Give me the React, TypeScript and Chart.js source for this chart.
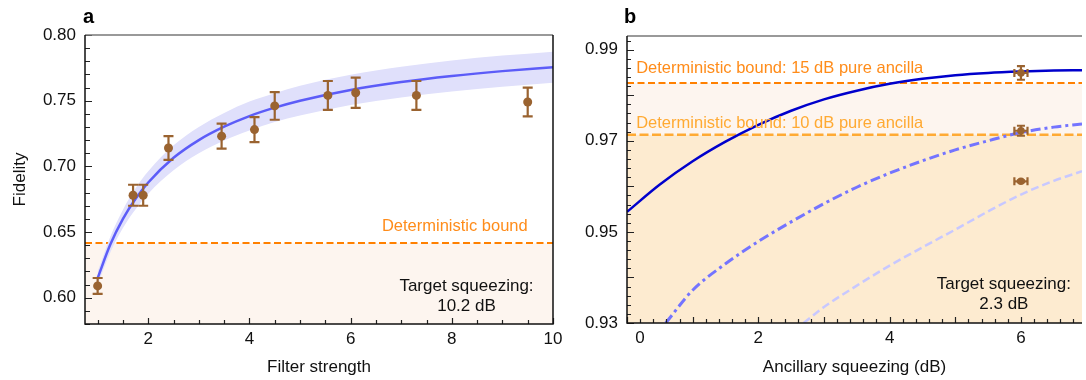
import React, { useEffect, useRef } from "react";
import { Chart, registerables } from "chart.js";
Chart.register(...registerables);

const FONT = "'Liberation Sans', Arial, Helvetica, sans-serif";
const BROWN = "#9a6330";

// ---------- Panel a ----------
const aFilter = [1.0, 1.7, 1.9, 2.4, 3.45, 4.1, 4.5, 5.55, 6.1, 7.3, 9.5];
const aFidelity = [0.609, 0.678, 0.678, 0.714, 0.723, 0.728, 0.746, 0.754, 0.756, 0.754, 0.749];
const aFidelityErr = [0.006, 0.008, 0.008, 0.009, 0.0095, 0.0095, 0.0105, 0.011, 0.0115, 0.011, 0.011];
const aFitX = [1.0, 1.25, 1.5, 1.75, 2, 2.5, 3, 3.5, 4, 4.5, 5, 6, 7, 8, 9, 10];
const aFitY = [0.615, 0.6405, 0.66, 0.6753, 0.6877, 0.7065, 0.72, 0.7302, 0.7383, 0.7447, 0.75, 0.7582, 0.7642, 0.7688, 0.7725, 0.7755];
const aFitBand = [0.005, 0.006, 0.007, 0.008, 0.0085, 0.0095, 0.01, 0.0105, 0.011, 0.011, 0.0113, 0.0115, 0.0117, 0.0118, 0.0118, 0.0118];
const aBound = 0.6416;
const aXTicks = [2, 4, 6, 8, 10];
const aYTicks = [0.6, 0.65, 0.7, 0.75, 0.8];

// ---------- Panel b ----------
const bAncilla = [6, 6, 6];
const bFidelity = [0.9849, 0.9722, 0.9611];
const bFidelityErr = [0.0015, 0.0011, 0.0002];
const bAncillaErr = [0.1, 0.1, 0.1];
const bPureX = [0, 0.5, 1, 1.5, 2, 2.5, 3, 3.5, 4, 4.5, 5, 5.5, 6, 6.5, 6.93];
const bPureY = [0.9544, 0.9604, 0.9655, 0.9698, 0.9735, 0.9766, 0.9791, 0.981, 0.9825, 0.9836, 0.9844, 0.9849, 0.9852, 0.9854, 0.9855];
const bMidX = [0.59, 1, 1.5, 2, 2.5, 3, 3.5, 4, 4.5, 5, 5.5, 6, 6.5, 6.93];
const bMidY = [0.93, 0.9372, 0.943, 0.9479, 0.9522, 0.9562, 0.9598, 0.9629, 0.9656, 0.968, 0.97, 0.9718, 0.973, 0.9737];
const bLowX = [2.69, 3, 3.5, 4, 4.5, 5, 5.5, 6, 6.5, 6.93];
const bLowY = [0.93, 0.9335, 0.9382, 0.9426, 0.9466, 0.9505, 0.9545, 0.9582, 0.9612, 0.9633];
const bBound15 = 0.9827;
const bBound10 = 0.9713;
const bXTicks = [0, 2, 4, 6];
const bYTicks = [0.93, 0.95, 0.97, 0.99];

const pts = (xs: number[], ys: number[]) => xs.map((x, i) => ({ x, y: ys[i] }));

type Decor = {
  fills: { to: number; color: string }[];
  hlines: { y: number; color: string; dash: number[]; width: number }[];
  texts: { text: string; x: number; y: number; align: CanvasTextAlign; color: string; size: number }[];
  err: { index: number; x: number[]; y: number[]; yErr: number[]; xErr?: number[]; cap: number };
  frameRight: boolean;
  ticks: {
    x: { step: number; major: number; minorLen: number; majorLen: number };
    y: { step: number; major: number; minorLen: number; majorLen: number };
  };
  label: string;
  labelDx: number;
  shiftZero?: number;
};

function makeDecor(cfg: Decor) {
  return {
    id: "decor",
    beforeDatasetsDraw(chart: any) {
      const { ctx, chartArea: ca, scales } = chart;
      const y = scales.y;
      ctx.save();
      ctx.beginPath();
      ctx.rect(ca.left, ca.top, ca.right - ca.left, ca.bottom - ca.top);
      ctx.clip();
      for (const f of cfg.fills) {
        const yt = y.getPixelForValue(f.to);
        ctx.fillStyle = f.color;
        ctx.fillRect(ca.left, yt, ca.right - ca.left, ca.bottom - yt);
      }
      for (const h of cfg.hlines) {
        const py = y.getPixelForValue(h.y);
        ctx.strokeStyle = h.color;
        ctx.lineWidth = h.width;
        ctx.setLineDash(h.dash);
        ctx.beginPath();
        ctx.moveTo(ca.left, py);
        ctx.lineTo(ca.right, py);
        ctx.stroke();
      }
      ctx.restore();
    },
    beforeDatasetDraw(chart: any, args: any) {
      if (args.index !== cfg.err.index) return;
      const { ctx, scales } = chart;
      const xs = scales.x, ys = scales.y;
      const e = cfg.err;
      ctx.save();
      ctx.strokeStyle = BROWN;
      ctx.lineWidth = 2.2;
      ctx.setLineDash([]);
      for (let i = 0; i < e.x.length; i++) {
        const px = xs.getPixelForValue(e.x[i]);
        const y1 = ys.getPixelForValue(e.y[i] - e.yErr[i]);
        const y2 = ys.getPixelForValue(e.y[i] + e.yErr[i]);
        ctx.beginPath();
        ctx.moveTo(px, y1); ctx.lineTo(px, y2);
        ctx.moveTo(px - e.cap, y1); ctx.lineTo(px + e.cap, y1);
        ctx.moveTo(px - e.cap, y2); ctx.lineTo(px + e.cap, y2);
        ctx.stroke();
        if (e.xErr) {
          const py = ys.getPixelForValue(e.y[i]);
          const x1 = xs.getPixelForValue(e.x[i] - e.xErr[i]);
          const x2 = xs.getPixelForValue(e.x[i] + e.xErr[i]);
          ctx.beginPath();
          ctx.moveTo(x1, py); ctx.lineTo(x2, py);
          ctx.moveTo(x1, py - e.cap); ctx.lineTo(x1, py + e.cap);
          ctx.moveTo(x2, py - e.cap); ctx.lineTo(x2, py + e.cap);
          ctx.stroke();
        }
      }
      ctx.restore();
    },
    afterDatasetsDraw(chart: any) {
      const { ctx, scales } = chart;
      ctx.save();
      ctx.textBaseline = "middle";
      for (const t of cfg.texts) {
        ctx.font = `${t.size}px ${FONT}`;
        ctx.fillStyle = t.color;
        ctx.textAlign = t.align;
        ctx.fillText(t.text, scales.x.getPixelForValue(t.x), scales.y.getPixelForValue(t.y));
      }
      ctx.restore();
    },
    afterDraw(chart: any) {
      const { ctx, chartArea: ca, scales } = chart;
      const xs = scales.x, ys = scales.y;
      ctx.save();
      ctx.setLineDash([]);
      ctx.strokeStyle = "#222";
      ctx.lineWidth = 1.2;
      const tx = cfg.ticks.x;
      const n0 = Math.ceil(xs.min / tx.step - 1e-6), n1 = Math.floor(xs.max / tx.step + 1e-6);
      ctx.beginPath();
      for (let n = n0; n <= n1; n++) {
        const v = n * tx.step;
        const isMajor = Math.abs(v / tx.major - Math.round(v / tx.major)) < 1e-6;
        const px = Math.round(xs.getPixelForValue(v)) + 0.5;
        ctx.moveTo(px, ca.bottom);
        ctx.lineTo(px, ca.bottom - (isMajor ? tx.majorLen : tx.minorLen));
      }
      const ty = cfg.ticks.y;
      const m0 = Math.ceil(ys.min / ty.step - 1e-6), m1 = Math.floor(ys.max / ty.step + 1e-6);
      for (let n = m0; n <= m1; n++) {
        const v = n * ty.step;
        const isMajor = Math.abs(v / ty.major - Math.round(v / ty.major)) < 1e-6;
        const py = Math.round(ys.getPixelForValue(v)) + 0.5;
        ctx.moveTo(ca.left, py);
        ctx.lineTo(ca.left + (isMajor ? ty.majorLen : ty.minorLen), py);
      }
      ctx.stroke();
      ctx.strokeStyle = "#777";
      ctx.lineWidth = 1.5;
      ctx.beginPath();
      ctx.moveTo(ca.left, ca.top);
      ctx.lineTo(ca.right, ca.top);
      ctx.stroke();
      ctx.strokeStyle = "#111";
      ctx.beginPath();
      ctx.moveTo(ca.left, ca.top);
      ctx.lineTo(ca.left, ca.bottom);
      ctx.lineTo(ca.right, ca.bottom);
      if (cfg.frameRight) ctx.lineTo(ca.right, ca.top);
      ctx.stroke();
      ctx.fillStyle = "#000";
      ctx.font = `bold 20px ${FONT}`;
      ctx.textAlign = "left";
      ctx.textBaseline = "middle";
      ctx.fillText(cfg.label, ca.left + cfg.labelDx, 17);
      if (cfg.shiftZero !== undefined) {
        let yy = ca.bottom + 16;
        const items = xs.getLabelItems ? xs.getLabelItems() : null;
        if (items) {
          const it = items.find((k: any) => k.label === "2");
          if (it) {
            ctx.textBaseline = it.options.textBaseline;
            yy = it.options.translation[1] + it.textOffset;
          }
        }
        ctx.font = `17px ${FONT}`;
        ctx.fillStyle = "#111";
        ctx.textAlign = "center";
        ctx.fillText("0", xs.getPixelForValue(0) + cfg.shiftZero, yy);
      }
      ctx.restore();
    },
  };
}

function axisX(min: number, max: number, ticks: number[], title: string, height: number, hideZero = false) {
  return {
    type: "linear",
    min,
    max,
    grid: { display: false, drawTicks: false },
    border: { display: false },
    ticks: {
      font: { family: FONT, size: 17 },
      color: "#111",
      padding: 5,
      maxRotation: 0,
      autoSkip: false,
      callback: (v: number) => (hideZero && v === 0 ? "" : String(v)),
    },
    afterBuildTicks: (s: any) => {
      s.ticks = ticks.map((value) => ({ value }));
    },
    afterFit: (s: any) => {
      s.height = height;
      s.paddingLeft = 0;
      s.paddingRight = 0;
    },
    title: { display: true, text: title, font: { family: FONT, size: 17 }, color: "#111", padding: { top: 0, bottom: 2 } },
  };
}

function axisY(min: number, max: number, ticks: number[], title: string | null, width: number) {
  return {
    type: "linear",
    min,
    max,
    grid: { display: false, drawTicks: false },
    border: { display: false },
    ticks: {
      font: { family: FONT, size: 17 },
      color: "#111",
      padding: 9,
      autoSkip: false,
      callback: (v: number) => v.toFixed(2),
    },
    afterBuildTicks: (s: any) => {
      s.ticks = ticks.map((value) => ({ value }));
    },
    afterFit: (s: any) => {
      s.width = width;
      s.paddingTop = 0;
      s.paddingBottom = 0;
    },
    title: title
      ? { display: true, text: title, font: { family: FONT, size: 17 }, color: "#111", padding: { top: 10, bottom: 0 } }
      : { display: false },
  };
}

export default function App() {
  const refA = useRef<HTMLCanvasElement>(null);
  const refB = useRef<HTMLCanvasElement>(null);

  useEffect(() => {
    const fit = pts(aFitX, aFitY);
    const upper = aFitX.map((x, i) => ({ x, y: aFitY[i] + aFitBand[i] }));
    const lower = aFitX.map((x, i) => ({ x, y: aFitY[i] - aFitBand[i] }));

    const chartA = new Chart(refA.current!, {
      type: "line",
      data: {
        datasets: [
          {
            type: "scatter",
            data: pts(aFilter, aFidelity),
            pointRadius: 4.5,
            pointBackgroundColor: BROWN,
            pointBorderWidth: 0,
            showLine: false,
          } as any,
          {
            data: fit,
            borderColor: "#5c5cf8",
            borderWidth: 2.5,
            pointRadius: 0,
            cubicInterpolationMode: "monotone",
            fill: false,
          },
          {
            data: upper,
            borderColor: "transparent",
            pointRadius: 0,
            cubicInterpolationMode: "monotone",
            backgroundColor: "#e0e0fb",
            fill: "+1",
          },
          {
            data: lower,
            borderColor: "transparent",
            pointRadius: 0,
            cubicInterpolationMode: "monotone",
            fill: false,
          },
        ],
      },
      options: {
        animation: false,
        responsive: false,
        devicePixelRatio: 1,
        layout: { padding: { left: 0, top: 35, right: 22, bottom: 0 } },
        plugins: { legend: { display: false }, tooltip: { enabled: false } },
        scales: {
          x: axisX(0.75, 10, aXTicks, "Filter strength", 56) as any,
          y: axisY(0.58, 0.8, aYTicks, "Fidelity", 85) as any,
        },
      },
      plugins: [
        makeDecor({
          fills: [{ to: aBound, color: "#fdf5ef" }],
          hlines: [{ y: aBound, color: "#ff8000", dash: [7, 3.5], width: 2 }],
          texts: [
            { text: "Deterministic bound", x: 9.5, y: 0.654, align: "right", color: "#ff8c1a", size: 16.5 },
            { text: "Target squeezing:", x: 8.29, y: 0.6084, align: "center", color: "#111", size: 17 },
            { text: "10.2 dB", x: 8.29, y: 0.5934, align: "center", color: "#111", size: 17 },
          ],
          err: { index: 0, x: aFilter, y: aFidelity, yErr: aFidelityErr, cap: 5 },
          frameRight: true,
          ticks: {
            x: { step: 0.5, major: 2, minorLen: 4, majorLen: 6 },
            y: { step: 0.01, major: 0.05, minorLen: 5, majorLen: 7 },
          },
          label: "a",
          labelDx: -2,
        }) as any,
      ],
    });

    const chartB = new Chart(refB.current!, {
      type: "line",
      data: {
        datasets: [
          {
            type: "scatter",
            data: pts(bAncilla, bFidelity),
            pointRadius: 3.8,
            pointBackgroundColor: BROWN,
            pointBorderWidth: 0,
            showLine: false,
          } as any,
          {
            data: pts(bPureX, bPureY),
            borderColor: "#0000cc",
            borderWidth: 2.5,
            pointRadius: 0,
            cubicInterpolationMode: "monotone",
            fill: false,
          },
          {
            data: pts(bMidX, bMidY),
            borderColor: "#7474ff",
            borderWidth: 3,
            borderDash: [10, 4, 3, 4],
            pointRadius: 0,
            cubicInterpolationMode: "monotone",
            fill: false,
          },
          {
            data: pts(bLowX, bLowY),
            borderColor: "#c8c8ff",
            borderWidth: 2.5,
            borderDash: [8, 4],
            pointRadius: 0,
            cubicInterpolationMode: "monotone",
            fill: false,
          },
        ],
      },
      options: {
        animation: false,
        responsive: false,
        devicePixelRatio: 1,
        layout: { padding: { left: 0, top: 36, right: 0, bottom: 0 } },
        plugins: { legend: { display: false }, tooltip: { enabled: false } },
        scales: {
          x: axisX(0, 6.93, bXTicks, "Ancillary squeezing (dB)", 57, true) as any,
          y: axisY(0.93, 0.993, bYTicks, null, 52) as any,
        },
      },
      plugins: [
        makeDecor({
          fills: [
            { to: bBound15, color: "#fdf5ef" },
            { to: bBound10, color: "#fdebd0" },
          ],
          hlines: [
            { y: bBound15, color: "#ff8000", dash: [7, 3.5], width: 2 },
            { y: bBound10, color: "#ffaa33", dash: [9, 3.5], width: 2.5 },
          ],
          texts: [
            { text: "Deterministic bound: 15 dB pure ancilla", x: 0.14, y: 0.9859, align: "left", color: "#ff8c1a", size: 16.5 },
            { text: "Deterministic bound: 10 dB pure ancilla", x: 0.14, y: 0.9739, align: "left", color: "#ffaa33", size: 16.5 },
            { text: "Target squeezing:", x: 5.74, y: 0.9384, align: "center", color: "#111", size: 17 },
            { text: "2.3 dB", x: 5.74, y: 0.934, align: "center", color: "#111", size: 17 },
          ],
          err: { index: 0, x: bAncilla, y: bFidelity, yErr: bFidelityErr, xErr: bAncillaErr, cap: 4 },
          frameRight: false,
          ticks: {
            x: { step: 0.2, major: 1, minorLen: 4, majorLen: 6 },
            y: { step: 0.002, major: 0.01, minorLen: 4, majorLen: 7 },
          },
          label: "b",
          labelDx: -3,
          shiftZero: 13,
        }) as any,
      ],
    });

    return () => {
      chartA.destroy();
      chartB.destroy();
    };
  }, []);

  return (
    <div style={{ position: "absolute", left: 0, top: 0, width: 1086, height: 380, background: "#fff", overflow: "hidden" }}>
      <canvas ref={refA} width={575} height={380} style={{ position: "absolute", left: 0, top: 0, width: 575, height: 380 }} />
      <canvas ref={refB} width={511} height={380} style={{ position: "absolute", left: 575, top: 0, width: 511, height: 380 }} />
    </div>
  );
}
